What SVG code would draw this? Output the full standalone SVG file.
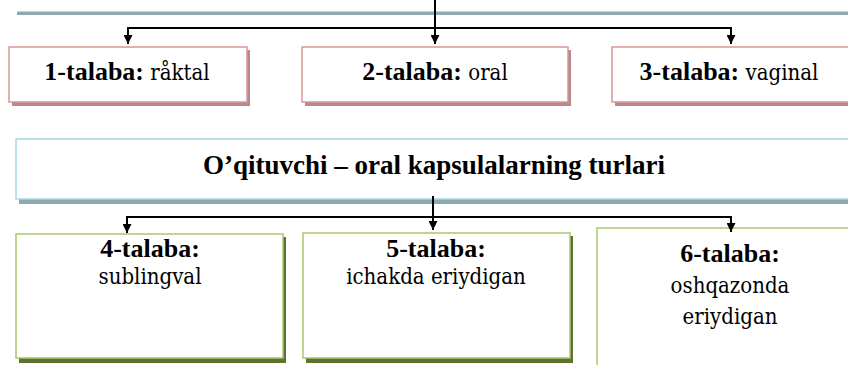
<svg xmlns="http://www.w3.org/2000/svg" width="848" height="365" viewBox="0 0 848 365">
<defs>
<style>
text,tspan{font-family:"Liberation Serif","DejaVu Serif",serif}
.t{font-size:26px;fill:#000;text-anchor:middle;font-weight:normal}
.b{font-weight:bold}
.r{font-family:"DejaVu Serif Condensed","DejaVu Serif",serif;font-stretch:condensed;font-size:22px;font-weight:normal}
.pk{fill:#fff;stroke:#d99694;stroke-width:1.5}
.pks{fill:#b8898a}
.bl{fill:#fff;stroke:#a8d6e3;stroke-width:1.5}
.bls{fill:#8ea9b2}
.gr{fill:#fff;stroke:#a9c76f;stroke-width:1.5}
.grs{fill:#5c7330}
.c{fill:none;stroke:#000;stroke-width:2}
</style>
<marker id="ad" markerWidth="10" markerHeight="9" refX="10" refY="5" orient="auto" markerUnits="userSpaceOnUse" viewBox="0 0 10 10">
<path d="M0,0 L10,5 L0,10 Z" fill="#000"/>
</marker>
</defs>
<line x1="17" y1="13.5" x2="848" y2="13.5" stroke="#8fa9b2" stroke-width="3"/>
<line x1="17" y1="11.5" x2="848" y2="11.5" stroke="#b6dde8" stroke-width="1"/>
<g id="n1">
<rect class="pks" x="12" y="50" width="238" height="56"/>
<rect class="pk" x="9" y="47" width="238" height="55"/>
<text class="t" x="127" y="80"><tspan class="b">1-talaba:</tspan><tspan class="r"> råktal</tspan></text>
</g>
<g id="n2">
<rect class="pks" x="305" y="50" width="266" height="56"/>
<rect class="pk" x="302" y="47" width="266" height="55"/>
<text class="t" x="435" y="80"><tspan class="b">2-talaba:</tspan><tspan class="r"> oral</tspan></text>
</g>
<g id="n3">
<rect class="pks" x="615" y="50" width="260" height="56"/>
<rect class="pk" x="612" y="47" width="260" height="55"/>
<text class="t" x="729" y="80"><tspan class="b">3-talaba:</tspan><tspan class="r"> vaginal</tspan></text>
</g>
<g id="n0">
<rect class="bls" x="19" y="142" width="860" height="62"/>
<rect class="bl" x="16" y="139" width="860" height="60"/>
<text class="t b" x="434" y="174" style="font-size:27px">O’qituvchi – oral kapsulalarning turlari</text>
</g>
<g id="n4">
<rect class="grs" x="19" y="237" width="267" height="126"/>
<rect class="gr" x="16" y="234" width="267" height="124"/>
<text class="t b" x="150" y="257">4-talaba:</text>
<text class="t r" x="150" y="284">sublingval</text>
</g>
<g id="n5">
<rect class="grs" x="306" y="236" width="267" height="127"/>
<rect class="gr" x="303" y="233" width="267" height="125"/>
<text class="t b" x="436" y="257">5-talaba:</text>
<text class="t r" x="436" y="284">ichakda eriydigan</text>
</g>
<g id="n6">
<rect class="gr" x="597" y="228" width="300" height="200"/>
<text class="t b" x="730" y="262">6-talaba:</text>
<text class="t r" x="730" y="293">oshqazonda</text>
<text class="t r" x="730" y="324">eriydigan</text>
</g>
<g id="connectors">
<path class="c" d="M435,0 V28"/>
<path class="c" d="M128,28 H731"/>
<path class="c" d="M128,27 V44" marker-end="url(#ad)"/>
<path class="c" d="M435,28 V44" marker-end="url(#ad)"/>
<path class="c" d="M731,27 V44" marker-end="url(#ad)"/>
<path class="c" d="M433,196 V217"/>
<path class="c" d="M127,217 H731"/>
<path class="c" d="M127,216 V233" marker-end="url(#ad)"/>
<path class="c" d="M433,217 V230" marker-end="url(#ad)"/>
<path class="c" d="M731,216 V232" marker-end="url(#ad)"/>
</g>
</svg>
